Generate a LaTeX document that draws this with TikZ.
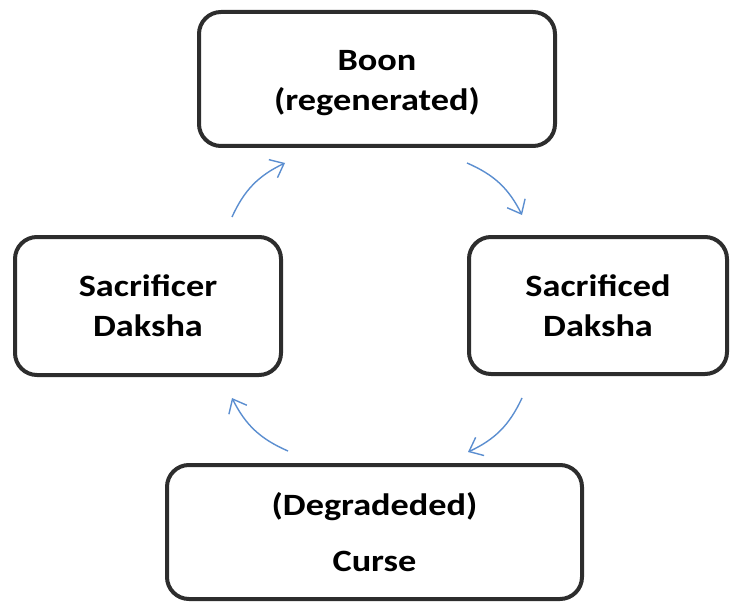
\documentclass[tikz,border=0pt]{standalone}
\usepackage{fontspec}
\setmainfont{Carlito}[FakeStretch=1.17]
\usetikzlibrary{arrows.meta}
\definecolor{boxgray}{RGB}{45,45,45}
\definecolor{flowblue}{RGB}{91,142,208}

\begin{document}
\begin{tikzpicture}[x=1pt,y=-1pt,
    stage/.style={draw=boxgray, line width=4pt, rounded corners=22pt,
      inner sep=0pt, align=center, font=\fontsize{31}{40}\selectfont\bfseries},
    flow/.style={draw=flowblue, line width=1.4pt,
      -{Straight Barb[length=12pt,width=20pt]}, bend left=20}]
  \useasboundingbox (0,0) rectangle (730,604);

  \node[stage, minimum width=356pt, minimum height=134pt, text height=78pt, text depth=14pt] (boon) at (377,79) {Boon\\(regenerated)};
  \node[stage, minimum width=266pt, minimum height=138pt] (sacrificer) at (148,306) {Sacrificer\\Daksha};
  \node[stage, minimum width=258pt, minimum height=137pt] (sacrificed) at (598,305.5) {Sacrificed\\Daksha};
  \node[stage, minimum width=415pt, minimum height=134pt] (curse) at (374.5,532) {(Degradeded)\\[16pt]Curse};

  \coordinate (up1) at (232,217);  \coordinate (up2) at (285,163);
  \coordinate (rt1) at (467,163);  \coordinate (rt2) at (522,215);
  \coordinate (dn1) at (522,398);  \coordinate (dn2) at (468,452);
  \coordinate (lf1) at (288,451);  \coordinate (lf2) at (232,398);

  \draw[flow] (up1) to (up2);
  \draw[flow] (rt1) to (rt2);
  \draw[flow] (dn1) to (dn2);
  \draw[flow] (lf1) to (lf2);
\end{tikzpicture}
\end{document}
